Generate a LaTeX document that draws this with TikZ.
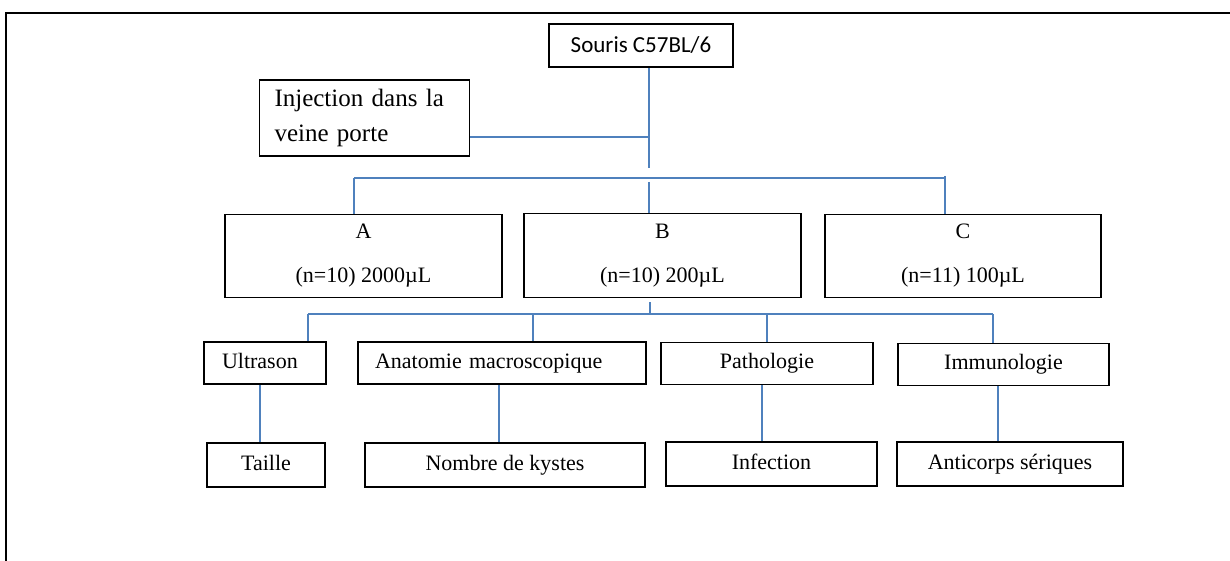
\documentclass[tikz,border=0pt]{standalone}
\usepackage{fontspec}
\setmainfont{Liberation Serif}
\newfontfamily\calibri{Carlito}
\definecolor{linkblue}{RGB}{79,129,189}
\tikzset{
  box/.style={draw, line width=0.8pt, inner sep=0pt, font=\fontsize{11}{13}\selectfont},
  group/.style={box, minimum width=138.5pt, minimum height=41.5pt, align=center, font=\fontsize{11}{22}\selectfont},
  exam/.style={box, minimum height=21pt, text height=7.5pt, text depth=2.5pt},
  result/.style={box, minimum height=22pt, text height=7.5pt, text depth=2.5pt},
  link/.style={draw=linkblue, line width=0.75pt}
}

\begin{document}
\begin{tikzpicture}[x=0.5pt,y=-0.5pt]
    \useasboundingbox (0,0) rectangle (1230,561);
    \draw [line width=1pt] (6,561) -- (6,13) -- (1230,13);
    % top
    \node [box, minimum width=92pt, minimum height=21.5pt, font=\calibri\fontsize{11.5}{14}\selectfont] (souris) at (641,45.5) {Souris C57BL/6};
    \node [box, text width=90pt, inner xsep=7.5pt, minimum height=38pt, align=left, font=\fontsize{12.5}{17.5}\selectfont] (injection) at (364.5,118) {Injection dans la\\veine porte};
    % groups
    \node [group] (a) at (363.5,256) {A\\(n=10) 2000µL};
    \node [group, minimum height=42pt] (b) at (662.5,255.5) {B\\(n=10) 200µL};
    \node [group, minimum width=138pt] (c) at (963,256) {C\\(n=11) 100µL};
    % exams
    \node [exam, text width=43pt, inner xsep=9pt, align=left] (ultrason) at (265,363) {Ultrason};
    \node [exam, text width=127pt, inner xsep=8.5pt, align=left] (anatomie) at (502,363) {Anatomie macroscopique};
    \node [exam, minimum width=106pt] (pathologie) at (767,363.5) {Pathologie};
    \node [exam, minimum width=105.5pt] (immunologie) at (1003.5,364.5) {Immunologie};
    % results
    \node [result, minimum width=59pt] (taille) at (266,465) {Taille};
    \node [result, minimum width=140pt] (nombre) at (505,465) {Nombre de kystes};
    \node [result, minimum width=105.5pt] (infection) at (771.5,464) {Infection};
    \node [result, minimum width=113pt] (anticorps) at (1010,464) {Anticorps sériques};
    % connectors
    \coordinate (hub) at (649,137);
    \coordinate (trunk) at (649,168);
    \coordinate (sa) at (354,178);
    \coordinate (sc) at (945,178);
    \coordinate (split) at (650,314);
    \coordinate (d1) at (308,314);
    \coordinate (d2) at (533,314);
    \coordinate (d4) at (993,314);
    \draw [link] (souris.south -| trunk) -- (trunk);
    \draw [link] (hub) -- (hub -| injection.east);
    \draw [link] (sa) -- (sc);
    \draw [link] (sa) -- (sa |- a.north);
    \draw [link] ([yshift=-2pt]sa -| trunk) -- (b.north -| trunk);
    \draw [link] ([yshift=1pt]sc) -- (sc |- c.north);
    \draw [link] ([yshift=-2pt]b.south -| split) -- (split);
    \draw [link] (d1) -- (d4);
    \draw [link] (d1) -- (d1 |- ultrason.north);
    \draw [link] (d2) -- (d2 |- anatomie.north);
    \draw [link] (split -| pathologie.north) -- (pathologie.north);
    \draw [link] (d4) -- (d4 |- immunologie.north);
    \draw [link] ([xshift=-2.5pt]ultrason.south) -- ([xshift=-2.5pt]ultrason.south |- taille.north);
    \draw [link] ([xshift=-1.5pt]anatomie.south) -- ([xshift=-1.5pt]anatomie.south |- nombre.north);
    \draw [link] ([xshift=-2.5pt]pathologie.south) -- ([xshift=-2.5pt]pathologie.south |- infection.north);
    \draw [link] ([xshift=-2.75pt]immunologie.south) -- ([xshift=-2.75pt]immunologie.south |- anticorps.north);
\end{tikzpicture}
\end{document}
